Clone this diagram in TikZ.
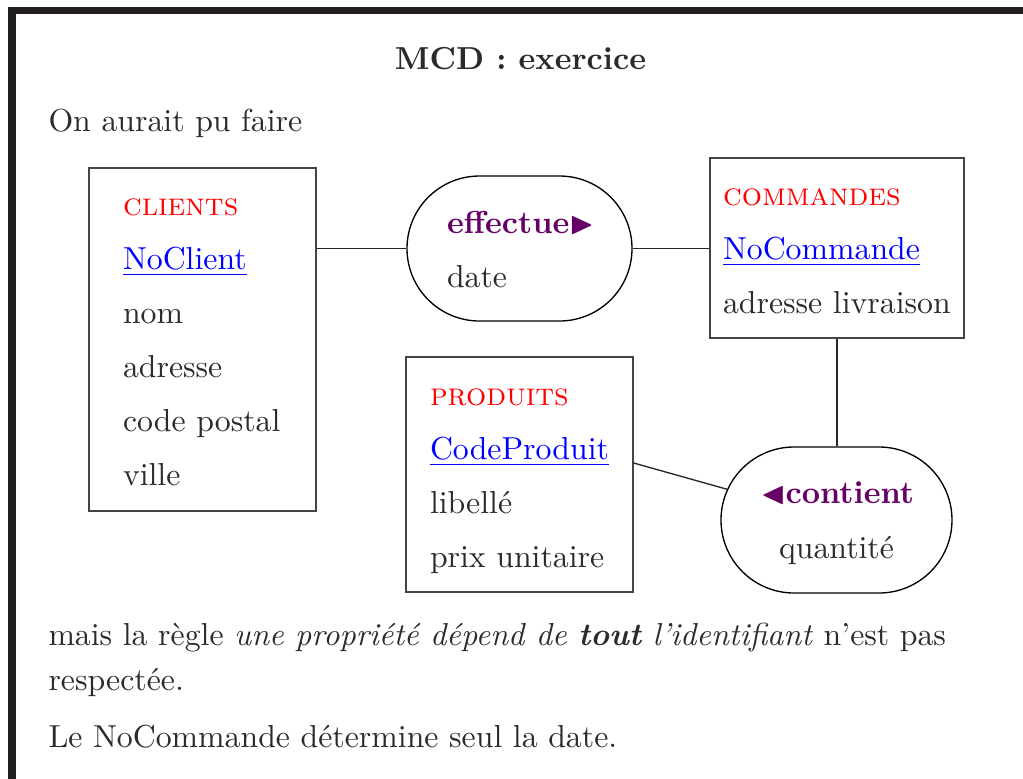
\documentclass[tikz,border=0pt]{standalone}
\usepackage{fontspec}
\usepackage{amssymb}
\usetikzlibrary{shapes.misc,calc}
\definecolor{txt}{HTML}{2B2B2B}
\definecolor{bord}{HTML}{231F20}
\definecolor{boxcol}{HTML}{444444}
\definecolor{assoccol}{RGB}{102,0,102}
\begin{document}
\begin{tikzpicture}[x=0.3144pt,y=-0.3144pt,
  txtnode/.style={inner sep=0pt, outer sep=0pt, text=txt, font=\fontsize{10pt}{12pt}\selectfont},
  lbl/.style={txtnode, anchor=base west},
  entity/.style={draw=boxcol, line width=0.42pt, rectangle, inner sep=0pt},
  assoc/.style={draw=black, line width=0.42pt, rounded rectangle, inner sep=0pt},
  link/.style={draw=black!85, line width=0.42pt},
  ename/.style={lbl, text=red, font=\fontsize{10pt}{12pt}\selectfont\scshape},
  ident/.style={lbl, text=blue},
  aname/.style={txtnode, text=assoccol, font=\fontsize{10pt}{12pt}\selectfont\bfseries}]

\useasboundingbox (0,0) rectangle (1023,779);
\fill[bord] (8,7) rectangle (1023,14);
\fill[bord] (8,7) rectangle (16,779);

% title and intro
\node[txtnode, anchor=base, font=\fontsize{10pt}{12pt}\selectfont\bfseries] (title) at (520.5,69) {MCD : exercice};
\node[lbl] (intro) at (48.5,131) {On aurait pu faire};

% shapes
\node[entity, minimum width={227*0.3144pt}, minimum height={343*0.3144pt}] (clients) at (202.5,339.5) {};
\node[entity, minimum width={254*0.3144pt}, minimum height={180*0.3144pt}] (commandes) at (837,248) {};
\node[entity, minimum width={227*0.3144pt}, minimum height={235*0.3144pt}] (produits) at (519.5,474.5) {};
\node[assoc, minimum width={225*0.3144pt}, minimum height={145*0.3144pt}] (effectue) at (519.5,248.5) {};
\node[assoc, minimum width={231*0.3144pt}, minimum height={146*0.3144pt}] (contient) at (836.5,520) {};

% CLIENTS
\node[ename] (cl0) at (123,215) {clients};
\node[ident] (cl1) at (123,269) {\underline{NoClient}};
\node[lbl] (cl2) at (123,323) {nom};
\node[lbl] (cl3) at (123,377) {adresse};
\node[lbl] (cl4) at (123,431) {code postal};
\node[lbl] (cl5) at (123,485) {ville};

% COMMANDES
\node[ename] (co0) at (723,205) {commandes};
\node[ident] (co1) at (723,259) {\underline{NoCommande}};
\node[lbl] (co2) at (723,313) {adresse livraison};

% PRODUITS
\node[ename] (pr0) at (430,405) {produits};
\node[ident] (pr1) at (430,459) {\underline{CodeProduit}};
\node[lbl] (pr2) at (430,513) {libellé};
\node[lbl] (pr3) at (430,567) {prix unitaire};

% associations
\node[aname, anchor=base west] (ef0) at (447,233) {effectue$\blacktriangleright$};
\node[lbl] (ef1) at (447,287) {date};
\node[aname, anchor=base] (ct0) at (837.5,503) {$\blacktriangleleft$contient};
\node[txtnode, anchor=base] (ct1) at (836.5,558) {quantité};

% connectors
\draw[link] (clients.east |- effectue.west) -- (effectue.west);
\draw[link] (effectue.east) -- (effectue.east -| commandes.west);
\draw[link] (commandes.south) -- (commandes.south |- contient.north);
\coordinate (pc) at ($(produits.east)+(0,-11.5)$);
\draw[link] (pc) -- (contient);

% closing text
\node[lbl] (p1) at (48.5,645.5) {mais la règle \textit{une propriété dépend de \textbf{tout} l'identifiant} n'est pas};
\node[lbl] (p2) at (48.5,690) {respectée.};
\node[lbl] (p3) at (48.5,747) {Le NoCommande détermine seul la date.};
\end{tikzpicture}
\end{document}
